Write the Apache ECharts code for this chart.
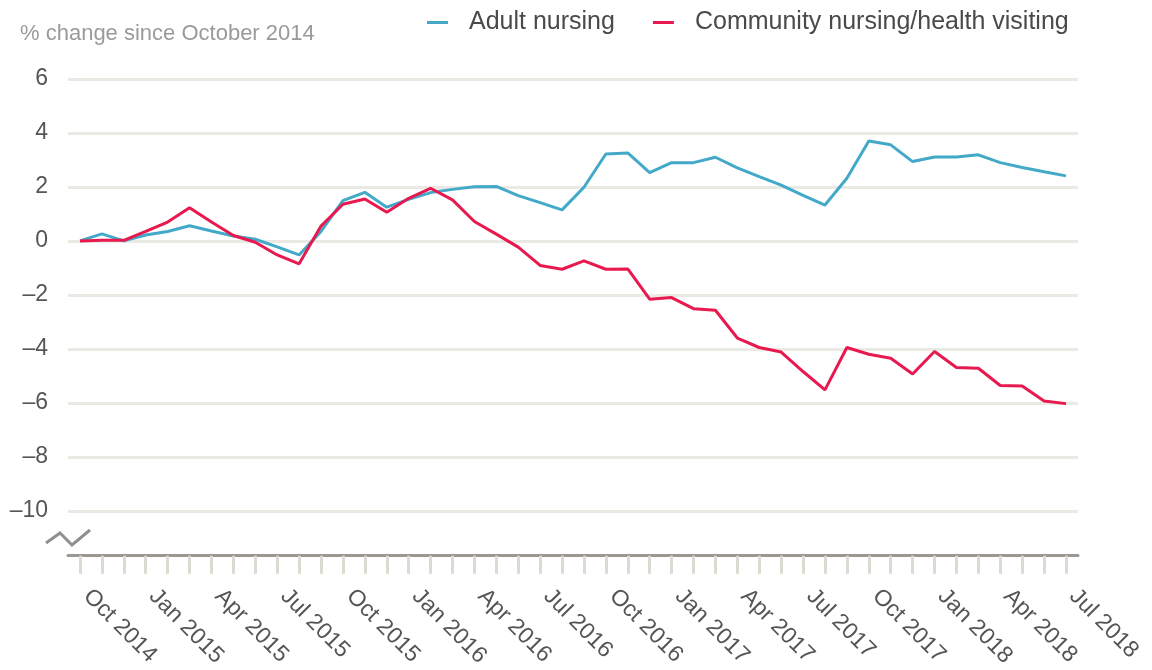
<!DOCTYPE html>
<html>
<head>
<meta charset="utf-8">
<script src="https://cdn.jsdelivr.net/npm/echarts@6/dist/echarts.min.js"></script>
<style>
  html, body { margin: 0; padding: 0; background: #fff; }
  #chart { width: 1152px; height: 670px; }
</style>
</head>
<body>
<div id="chart"></div>
<script>
// months Oct 2014 .. Jul 2018
var months = [
  "Oct 2014", "Nov 2014", "Dec 2014",
  "Jan 2015", "Feb 2015", "Mar 2015", "Apr 2015", "May 2015", "Jun 2015",
  "Jul 2015", "Aug 2015", "Sep 2015", "Oct 2015", "Nov 2015", "Dec 2015",
  "Jan 2016", "Feb 2016", "Mar 2016", "Apr 2016", "May 2016", "Jun 2016",
  "Jul 2016", "Aug 2016", "Sep 2016", "Oct 2016", "Nov 2016", "Dec 2016",
  "Jan 2017", "Feb 2017", "Mar 2017", "Apr 2017", "May 2017", "Jun 2017",
  "Jul 2017", "Aug 2017", "Sep 2017", "Oct 2017", "Nov 2017", "Dec 2017",
  "Jan 2018", "Feb 2018", "Mar 2018", "Apr 2018", "May 2018", "Jun 2018",
  "Jul 2018"
];

var adultNursing = [
  0, 0.26, 0, 0.22, 0.35, 0.56, 0.37, 0.18, 0.06, -0.22, -0.52, 0.35,
  1.49, 1.8, 1.25, 1.54, 1.79, 1.91, 2.01, 2.02, 1.68, 1.42, 1.15, 1.99,
  3.22, 3.26, 2.53, 2.9, 2.9, 3.1, 2.71, 2.38, 2.07, 1.69, 1.33, 2.32,
  3.7, 3.56, 2.94, 3.11, 3.11, 3.19, 2.9, 2.72, 2.56, 2.41
];

var communityNursing = [
  0, 0.02, 0.02, 0.35, 0.7, 1.23, 0.7, 0.2, -0.05, -0.52, -0.85, 0.55,
  1.36, 1.55, 1.06, 1.58, 1.95, 1.52, 0.72, 0.25, -0.23, -0.91, -1.05, -0.74,
  -1.05, -1.04, -2.16, -2.1, -2.51, -2.57, -3.6, -3.95, -4.12, -4.84, -5.52, -3.95,
  -4.2, -4.35, -4.93, -4.1, -4.69, -4.72, -5.36, -5.38, -5.93, -6.03
];

var yMin = -10, yMax = 6, yStep = 2;

var FONT = "Liberation Sans";
var blue = "#43a9c9";
var red = "#e8194f";

var chart = echarts.init(document.getElementById("chart"));
chart.setOption({
  animation: false,
  textStyle: { fontFamily: FONT },
  title: {
    text: "% change since October 2014",
    left: 15, top: 18,
    textStyle: { fontFamily: FONT, fontSize: 22, fontWeight: "normal", color: "#9a9a9a" }
  },
  legend: {
    left: 422, top: 5,
    icon: "rect",
    itemWidth: 21, itemHeight: 3,
    itemGap: 38,
    data: ["Adult nursing", "Community nursing/health visiting"],
    textStyle: { fontFamily: FONT, fontSize: 25, color: "#4a4a4a", padding: [0, 0, 0, 16] }
  },
  grid: [
    // wide grid: gridlines + axis line
    { left: 68, right: 74, top: 79, bottom: 159 },
    // data grid
    { left: 80, right: 86, top: 79, bottom: 159 }
  ],
  xAxis: [
    {
      gridIndex: 0, type: "value", min: 0, max: 1,
      offset: 44,
      axisLine: { show: true, onZero: false, lineStyle: { color: "#9b9893", width: 3 } },
      axisTick: { show: false }, axisLabel: { show: false }, splitLine: { show: false }
    },
    {
      gridIndex: 1, type: "category", data: months, boundaryGap: false,
      offset: 45,
      axisLine: { show: false, onZero: false },
      axisTick: { show: true, interval: 0, length: 18, lineStyle: { color: "#dcdad1", width: 3 } },
      axisLabel: {
        interval: 2, rotate: -45, margin: 30,
        padding: [0, 0, 0, 10],
        fontFamily: FONT, fontSize: 23, color: "#555555"
      },
      splitLine: { show: false }
    }
  ],
  yAxis: [
    {
      gridIndex: 0, type: "value", min: yMin, max: yMax, interval: yStep,
      axisLine: { show: false }, axisTick: { show: false },
      axisLabel: {
        margin: 20, fontFamily: FONT, fontSize: 23, color: "#555555",
        formatter: function (v) { return v < 0 ? "\u2013" + Math.abs(v) : String(v); }
      },
      splitLine: { show: true, lineStyle: { color: "#eae9e4", width: 3 } }
    },
    {
      gridIndex: 1, type: "value", min: yMin, max: yMax, interval: yStep,
      show: false
    }
  ],
  graphic: [
    {
      type: "polyline",
      shape: { points: [[46, 543], [60, 533], [72, 545], [90, 530]] },
      style: { stroke: "#8f8f8f", lineWidth: 3, fill: null }
    }
  ],
  series: [
    {
      name: "Adult nursing", type: "line",
      xAxisIndex: 1, yAxisIndex: 1,
      data: adultNursing, showSymbol: false, symbol: "none",
      lineStyle: { color: blue, width: 3 }, itemStyle: { color: blue }
    },
    {
      name: "Community nursing/health visiting", type: "line",
      xAxisIndex: 1, yAxisIndex: 1,
      data: communityNursing, showSymbol: false, symbol: "none",
      lineStyle: { color: red, width: 3 }, itemStyle: { color: red }
    }
  ]
});
</script>
</body>
</html>
